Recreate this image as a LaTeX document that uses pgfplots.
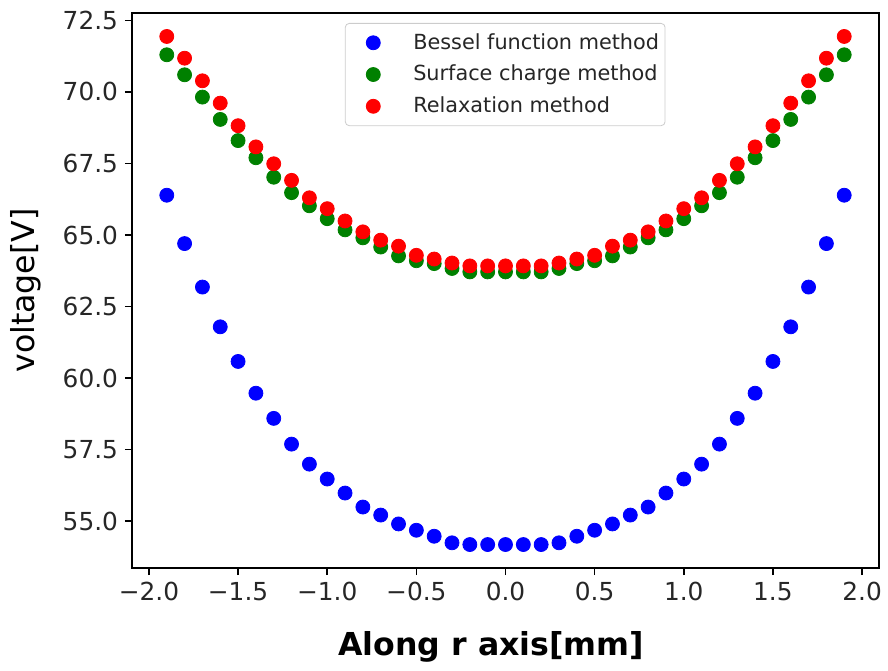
\documentclass[border=0pt]{standalone}
\usepackage{fontspec}
\setmainfont{DejaVu Sans}
\usepackage{pgfplots}
\pgfplotsset{compat=1.18}

\definecolor{mplblue}{RGB}{0,0,255}
\definecolor{mplgreen}{RGB}{0,128,0}
\definecolor{mplred}{RGB}{255,0,0}

\begin{document}
\begin{tikzpicture}
    % canvas of the reference (888x671 px at 0.5 bp/px)
    \useasboundingbox (-66bp,-51.5bp) rectangle (378bp,284bp);
    \begin{axis}[
        scale only axis,
        width=373.5bp,
        height=277.5bp,
        xmin=-2.095, xmax=2.095,
        ymin=53.36, ymax=72.76,
        xtick={-2,-1.5,-1,-0.5,0,0.5,1,1.5,2},
        xticklabels={−2.0,−1.5,−1.0,−0.5,0.0,0.5,1.0,1.5,2.0},
        ytick={55,57.5,60,62.5,65,67.5,70,72.5},
        yticklabels={55.0,57.5,60.0,62.5,65.0,67.5,70.0,72.5},
        tick align=outside,
        xtick pos=bottom,
        ytick pos=left,
        major tick length=3.5bp,
        every tick/.style={black, line width=0.8bp},
        axis line style={line width=0.8bp},
        tick label style={font=\fontsize{12.4bp}{14bp}\selectfont, text=black!85},
        xlabel={\textbf{Along r axis[mm]}},
        ylabel={voltage[V]},
        label style={font=\fontsize{15.8bp}{18bp}\selectfont},
        xlabel style={at={(axis description cs:0.481,-0.1568)}, anchor=base},
        ylabel style={at={(axis description cs:-0.1299,0.5)}, anchor=base},
        legend style={
            at={(0.285,0.982)}, anchor=north west,
            draw=black!20, rounded corners=2bp,
            font=\fontsize{10.4bp}{12bp}\selectfont,
            text=black!85,
            inner xsep=1bp, inner ysep=3bp,
            row sep=2.5bp,
            cells={anchor=west},
        },
        legend image code/.code={%
            \path[draw=none] (0bp,0bp) -- (31bp,0bp);
            \draw[#1] plot coordinates {(13bp,0bp)};},
        every axis plot/.append style={only marks, mark=*, mark size=3.5bp},
    ]

    % Bessel function method
    \addplot[color=mplblue, mark options={fill=mplblue, draw=none}] coordinates {
        (-1.9,66.39) (-1.8,64.70) (-1.7,63.18) (-1.6,61.79) (-1.5,60.58)
        (-1.4,59.47) (-1.3,58.59) (-1.2,57.69) (-1.1,56.99) (-1.0,56.47)
        (-0.9,55.98) (-0.8,55.49) (-0.7,55.21) (-0.6,54.90) (-0.5,54.68)
        (-0.4,54.47) (-0.3,54.24) (-0.2,54.18) (-0.1,54.18) (0.0,54.18)
        (0.1,54.18) (0.2,54.18) (0.3,54.24) (0.4,54.47) (0.5,54.68)
        (0.6,54.90) (0.7,55.21) (0.8,55.49) (0.9,55.98) (1.0,56.47)
        (1.1,56.99) (1.2,57.69) (1.3,58.59) (1.4,59.47) (1.5,60.58)
        (1.6,61.79) (1.7,63.18) (1.8,64.70) (1.9,66.39)
    };
    \addlegendentry{Bessel function method}

    % Surface charge method
    \addplot[color=mplgreen, mark options={fill=mplgreen, draw=none}] coordinates {
        (-1.9,71.30) (-1.8,70.60) (-1.7,69.82) (-1.6,69.04) (-1.5,68.30)
        (-1.4,67.70) (-1.3,67.02) (-1.2,66.48) (-1.1,66.02) (-1.0,65.57)
        (-0.9,65.18) (-0.8,64.90) (-0.7,64.58) (-0.6,64.27) (-0.5,64.10)
        (-0.4,64.00) (-0.3,63.83) (-0.2,63.71) (-0.1,63.71) (0.0,63.71)
        (0.1,63.71) (0.2,63.71) (0.3,63.83) (0.4,64.00) (0.5,64.10)
        (0.6,64.27) (0.7,64.58) (0.8,64.90) (0.9,65.18) (1.0,65.57)
        (1.1,66.02) (1.2,66.48) (1.3,67.02) (1.4,67.70) (1.5,68.30)
        (1.6,69.04) (1.7,69.82) (1.8,70.60) (1.9,71.30)
    };
    \addlegendentry{Surface charge method}

    % Relaxation method
    \addplot[color=mplred, mark options={fill=mplred, draw=none}] coordinates {
        (-1.9,71.94) (-1.8,71.18) (-1.7,70.39) (-1.6,69.61) (-1.5,68.82)
        (-1.4,68.08) (-1.3,67.49) (-1.2,66.91) (-1.1,66.30) (-1.0,65.92)
        (-0.9,65.49) (-0.8,65.11) (-0.7,64.82) (-0.6,64.61) (-0.5,64.29)
        (-0.4,64.16) (-0.3,64.02) (-0.2,63.92) (-0.1,63.92) (0.0,63.92)
        (0.1,63.92) (0.2,63.92) (0.3,64.02) (0.4,64.16) (0.5,64.29)
        (0.6,64.61) (0.7,64.82) (0.8,65.11) (0.9,65.49) (1.0,65.92)
        (1.1,66.30) (1.2,66.91) (1.3,67.49) (1.4,68.08) (1.5,68.82)
        (1.6,69.61) (1.7,70.39) (1.8,71.18) (1.9,71.94)
    };
    \addlegendentry{Relaxation method}

    \end{axis}
\end{tikzpicture}
\end{document}
